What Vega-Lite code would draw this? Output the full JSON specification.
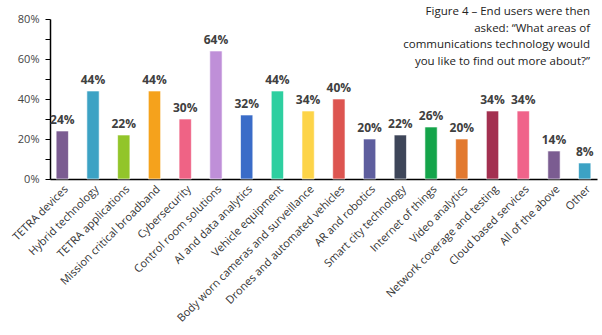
{
  "$schema": "https://vega.github.io/schema/vega-lite/v6.json",
  "width": 547,
  "height": 160,
  "autosize": {"type": "none"},
  "padding": {"left": 50, "top": 19, "right": 5, "bottom": 156},
  "background": "white",
  "title": {
    "text": ["Figure 4 – End users were then", "asked: “What areas of", "communications technology would", "you like to find out more about?”"],
    "anchor": "end",
    "frame": "group",
    "baseline": "top",
    "offset": -54,
    "dx": -7,
    "font": "Open Sans",
    "fontSize": 11.5,
    "fontWeight": "normal",
    "lineHeight": 16.5,
    "color": "#222222"
  },
  "data": {
    "values": [
      {"area": "TETRA devices", "share": 0.24, "color": "#7B5C91"},
      {"area": "Hybrid technology", "share": 0.44, "color": "#3CA2C4"},
      {"area": "TETRA applications", "share": 0.22, "color": "#92C52A"},
      {"area": "Mission critical broadband", "share": 0.44, "color": "#F5A21C"},
      {"area": "Cybersecurity", "share": 0.30, "color": "#EF6385"},
      {"area": "Control room solutions", "share": 0.64, "color": "#BF8FD8"},
      {"area": "AI and data analytics", "share": 0.32, "color": "#3A6CC8"},
      {"area": "Vehicle equipment", "share": 0.44, "color": "#2ECFA0"},
      {"area": "Body worn cameras and surveillance", "share": 0.34, "color": "#FDD448"},
      {"area": "Drones and automated vehicles", "share": 0.40, "color": "#DD5550"},
      {"area": "AR and robotics", "share": 0.20, "color": "#5E5E9E"},
      {"area": "Smart city technology", "share": 0.22, "color": "#3E4659"},
      {"area": "Internet of things", "share": 0.26, "color": "#14A44A"},
      {"area": "Video analytics", "share": 0.20, "color": "#E2792F"},
      {"area": "Network coverage and testing", "share": 0.34, "color": "#A33050"},
      {"area": "Cloud based services", "share": 0.34, "color": "#F0638A"},
      {"area": "All of the above", "share": 0.14, "color": "#7B5C91"},
      {"area": "Other", "share": 0.08, "color": "#3CA2C4"}
    ]
  },
  "encoding": {
    "x": {
      "field": "area",
      "type": "nominal",
      "sort": null,
      "scale": {"paddingInner": 0.6, "paddingOuter": 0.2},
      "axis": {
        "title": null,
        "labelAngle": -45,
        "labelFont": "Open Sans",
        "labelFontSize": 11,
        "labelColor": "#333333",
        "labelLimit": 400,
        "ticks": false,
        "domainColor": "#000000",
        "domainWidth": 1.5,
        "labelPadding": 4
      }
    },
    "y": {
      "field": "share",
      "type": "quantitative",
      "scale": {"domain": [0, 0.8], "nice": false},
      "axis": {
        "title": null,
        "values": [0, 0.1, 0.2, 0.3, 0.4, 0.5, 0.6, 0.7, 0.8],
        "labelExpr": "round(datum.value * 100) % 20 === 0 ? format(datum.value, '.0%') : ''",
        "grid": false,
        "labelFont": "Open Sans",
        "labelFontSize": 11,
        "labelColor": "#444444",
        "domainColor": "#000000",
        "domainWidth": 1.5,
        "tickColor": "#000000",
        "tickSize": 5,
        "tickOffset": 0,
        "labelPadding": 6
      }
    }
  },
  "layer": [
    {
      "mark": {"type": "bar", "stroke": "#ffffff", "strokeOpacity": 0.6, "strokeWidth": 1},
      "encoding": {"color": {"field": "color", "type": "nominal", "scale": null}}
    },
    {
      "mark": {"type": "text", "dy": -11, "font": "Open Sans", "fontSize": 12, "fontWeight": "bold", "color": "#404040"},
      "encoding": {"text": {"field": "share", "type": "quantitative", "format": ".0%"}}
    }
  ],
  "config": {"view": {"stroke": null}}
}
